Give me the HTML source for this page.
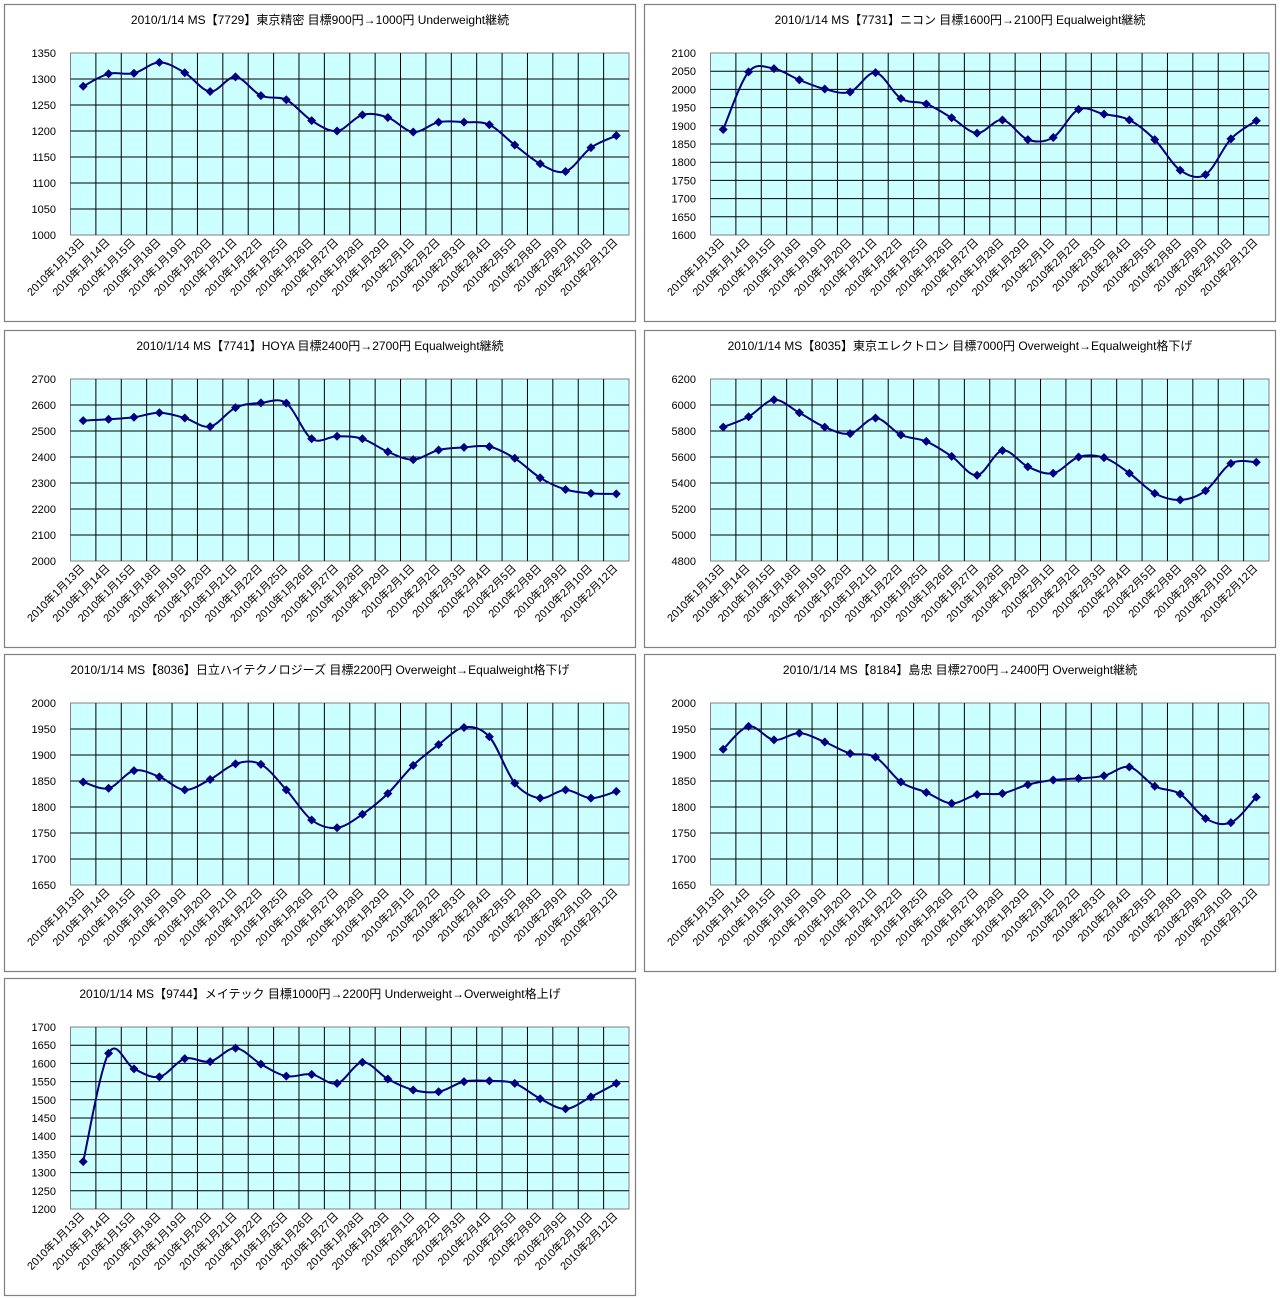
<!DOCTYPE html>
<html><head><meta charset="utf-8">
<style>
body{margin:0;background:#fff;width:1280px;height:1299px;overflow:hidden}
svg{position:absolute;left:0;top:0}
text{font-family:"Liberation Sans","Noto Sans CJK JP",sans-serif;fill:#000}
</style></head><body>
<svg id="s" width="1280" height="1299" xmlns="http://www.w3.org/2000/svg"></svg>
<script>
const dates=["1月13日","1月14日","1月15日","1月18日","1月19日","1月20日","1月21日","1月22日","1月25日","1月26日","1月27日","1月28日","1月29日","2月1日","2月2日","2月3日","2月4日","2月5日","2月8日","2月9日","2月10日","2月12日"];
const charts=[
{t:"2010/1/14 MS【7729】東京精密 目標900円→1000円 Underweight継続",x:4,y:4,min:1000,max:1350,step:50,
d:[1286,1310,1311,1332,1312,1276,1304,1268,1260,1220,1200,1231,1226,1198,1217,1217,1212,1173,1137,1122,1168,1191]},
{t:"2010/1/14 MS【7731】ニコン 目標1600円→2100円 Equalweight継続",x:644,y:4,min:1600,max:2100,step:50,
d:[1890,2048,2057,2026,2001,1993,2046,1975,1960,1922,1880,1916,1862,1868,1945,1932,1916,1862,1778,1766,1864,1914]},
{t:"2010/1/14 MS【7741】HOYA 目標2400円→2700円 Equalweight継続",x:4,y:330,min:2000,max:2700,step:100,
d:[2540,2545,2553,2570,2550,2517,2590,2608,2607,2470,2480,2470,2420,2390,2427,2437,2440,2395,2320,2275,2260,2258]},
{t:"2010/1/14 MS【8035】東京エレクトロン 目標7000円 Overweight→Equalweight格下げ",x:644,y:330,min:4800,max:6200,step:200,
d:[5830,5910,6040,5940,5830,5780,5900,5770,5720,5605,5460,5650,5525,5475,5600,5595,5475,5320,5270,5340,5550,5560]},
{t:"2010/1/14 MS【8036】日立ハイテクノロジーズ 目標2200円 Overweight→Equalweight格下げ",x:4,y:654,min:1650,max:2000,step:50,
d:[1848,1836,1870,1858,1833,1853,1883,1882,1833,1775,1760,1786,1826,1880,1920,1953,1935,1846,1817,1833,1817,1830]},
{t:"2010/1/14 MS【8184】島忠 目標2700円→2400円 Overweight継続",x:644,y:654,min:1650,max:2000,step:50,
d:[1911,1955,1929,1942,1925,1903,1896,1848,1828,1807,1824,1826,1843,1852,1855,1860,1877,1840,1825,1778,1770,1819]},
{t:"2010/1/14 MS【9744】メイテック 目標1000円→2200円 Underweight→Overweight格上げ",x:4,y:978,min:1200,max:1700,step:50,
d:[1330,1628,1585,1563,1613,1605,1642,1598,1565,1570,1545,1603,1557,1527,1522,1550,1552,1545,1503,1475,1508,1545]}
];
let h='';
for(const c of charts){
 const L=c.x+66.5,R=c.x+625,T=c.y+49,B=c.y+231,W=R-L,n=22,cw=W/n;
 h+=`<rect x="${c.x+0.5}" y="${c.y+0.5}" width="631" height="317" fill="#fff" stroke="#808080" stroke-width="1.2"/>`;
 h+=`<text x="${c.x+316}" y="${c.y+20}" font-size="12" text-anchor="middle">${c.t}</text>`;
 h+=`<rect x="${L}" y="${T}" width="${W}" height="${B-T}" fill="#ccffff" stroke="#808080"/>`;
 const k=(c.max-c.min)/c.step;
 for(let i=0;i<=k;i++){const y=B-(B-T)*i/k;
  if(i>0&&i<k)h+=`<line x1="${L}" x2="${R}" y1="${y}" y2="${y}" stroke="#000" stroke-width="1"/>`;
  h+=`<text x="${c.x+52}" y="${y+4}" font-size="11" text-anchor="end">${c.min+c.step*i}</text>`;}
 for(let i=1;i<n;i++){const x=L+cw*i;h+=`<line x1="${x}" x2="${x}" y1="${T}" y2="${B}" stroke="#000" stroke-width="1"/>`;}
 for(let i=0;i<n;i++){const x=L+cw*(i+0.5)+2,y=B+8;
  h+=`<text transform="translate(${x},${y}) rotate(-45)" font-size="11" text-anchor="end">2010年${dates[i]}</text>`;}
 const P=c.d.map((v,i)=>[L+cw*(i+0.5),B-(v-c.min)/(c.max-c.min)*(B-T)]);
 let p=`M${P[0][0]},${P[0][1]}`;
 for(let i=0;i<n-1;i++){const p0=P[Math.max(0,i-1)],p1=P[i],p2=P[i+1],p3=P[Math.min(n-1,i+2)];
  const t=1/6;p+=`C${p1[0]+(p2[0]-p0[0])*t},${p1[1]+(p2[1]-p0[1])*t} ${p2[0]-(p3[0]-p1[0])*t},${p2[1]-(p3[1]-p1[1])*t} ${p2[0]},${p2[1]}`;}
 h+=`<path d="${p}" fill="none" stroke="#000080" stroke-width="2"/>`;
 for(const [x,y] of P)h+=`<path d="M${x},${y-4.5}L${x+4.5},${y}L${x},${y+4.5}L${x-4.5},${y}Z" fill="#000080"/>`;
}
document.getElementById('s').innerHTML=h;
</script>
</body></html>
